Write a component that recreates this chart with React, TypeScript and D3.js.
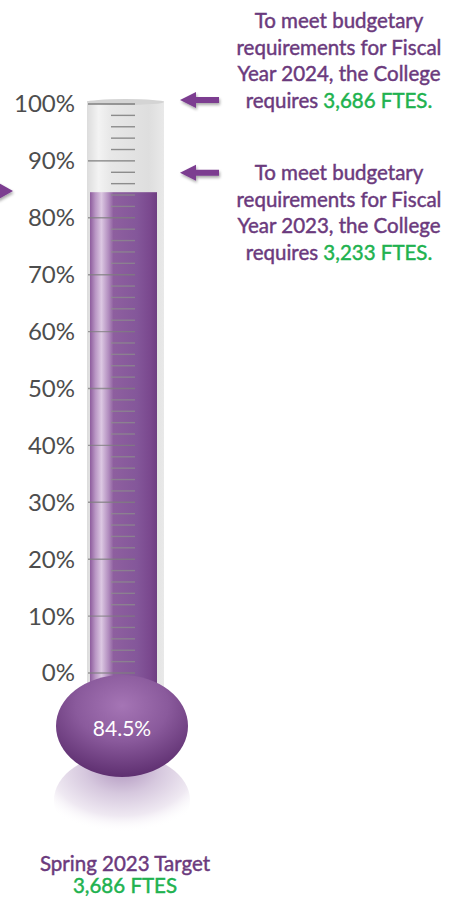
import React from "react";
import * as d3 from "d3";

const axisTicks = [0, 10, 20, 30, 40, 50, 60, 70, 80, 90, 100];
const minorTicks = d3.range(0, 101, 2);
const fillValue = 84.5;
const fillLabel = "84.5%";
const note2024 = ["To meet budgetary", "requirements for Fiscal", "Year 2024, the College"];
const note2024Last = ["requires ", "3,686 FTES."];
const note2023 = ["To meet budgetary", "requirements for Fiscal", "Year 2023, the College"];
const note2023Last = ["requires ", "3,233 FTES."];
const arrowTargets = [100, 87.2];
const footer = ["Spring 2023 Target", "3,686 FTES"];

const PURPLE_TEXT = "#6b3a7d";
const GREEN = "#21b24f";
const ARROW = "#7b3c90";
const FONT = "Lato, 'Open Sans', sans-serif";

export default function App() {
  const W = 465, H = 901;
  const y = d3.scaleLinear().domain([0, 100]).range([673, 104]);
  const tubeL = 87, tubeR = 164;
  const fillL = 90, fillR = 157;
  const cx = 122;

  const arrow = (ty: number, x0: number) => {
    const p = d3.path();
    p.moveTo(x0, ty);
    p.lineTo(x0 + 16, ty - 8);
    p.lineTo(x0 + 16, ty - 3);
    p.lineTo(x0 + 39, ty - 3);
    p.lineTo(x0 + 39, ty + 3);
    p.lineTo(x0 + 16, ty + 3);
    p.lineTo(x0 + 16, ty + 8);
    p.closePath();
    return p.toString();
  };

  const noteBlock = (lines: string[], last: string[], baseY: number) => (
    <text x={339} y={baseY} textAnchor="middle" fontFamily={FONT} fontSize={20.5} fill={PURPLE_TEXT}
      stroke={PURPLE_TEXT} strokeWidth={0.45}>
      {lines.map((l, i) => (
        <tspan key={i} x={339} dy={i === 0 ? 0 : 26.5}>{l}</tspan>
      ))}
      <tspan x={339} dy={26.5}>{last[0]}<tspan fill={GREEN} stroke={GREEN}>{last[1]}</tspan></tspan>
    </text>
  );

  return (
    <svg width={W} height={H} style={{ position: "absolute", left: 0, top: 0, background: "#fff" }}>
      <defs>
        <linearGradient id="glass" x1="0" x2="1" y1="0" y2="0">
          <stop offset="0" stopColor="#dcdcdc" />
          <stop offset="0.15" stopColor="#f3f3f3" />
          <stop offset="0.3" stopColor="#e8e8e8" />
          <stop offset="0.8" stopColor="#dedede" />
          <stop offset="1" stopColor="#e9e9e9" />
        </linearGradient>
        <linearGradient id="liquid" x1="0" x2="1" y1="0" y2="0">
          <stop offset="0" stopColor="#8d5c9d" />
          <stop offset="0.08" stopColor="#b996c4" />
          <stop offset="0.17" stopColor="#dcc8e2" />
          <stop offset="0.28" stopColor="#b08bbd" />
          <stop offset="0.35" stopColor="#8e5f9f" />
          <stop offset="0.7" stopColor="#84579a" />
          <stop offset="0.9" stopColor="#7a488e" />
          <stop offset="1" stopColor="#6f3e82" />
        </linearGradient>
        <radialGradient id="bulb" cx="0.5" cy="0.3" r="0.7">
          <stop offset="0" stopColor="#a575b5" />
          <stop offset="0.5" stopColor="#8a5a9c" />
          <stop offset="1" stopColor="#5e2f70" />
        </radialGradient>
        <radialGradient id="refl" cx="0.5" cy="0.15" r="0.7">
          <stop offset="0" stopColor="#b095be" />
          <stop offset="0.4" stopColor="#d6c8de" />
          <stop offset="0.75" stopColor="#efe9f2" />
          <stop offset="1" stopColor="#ffffff" stopOpacity={0} />
        </radialGradient>
        <filter id="shadow" x="-20%" y="-50%" width="140%" height="200%">
          <feGaussianBlur in="SourceAlpha" stdDeviation="1.5" />
          <feOffset dx="1" dy="2" result="b" />
          <feComponentTransfer><feFuncA type="linear" slope="0.35" /></feComponentTransfer>
          <feMerge><feMergeNode /><feMergeNode in="SourceGraphic" /></feMerge>
        </filter>
      </defs>

      {/* reflection */}
      <ellipse cx={cx} cy={800} rx={68} ry={46} fill="url(#refl)" />

      {/* glass tube */}
      <rect x={tubeL} y={y(100) - 3} width={tubeR - tubeL} height={y(0) - y(100) + 20} fill="url(#glass)" />
      <ellipse cx={(tubeL + tubeR) / 2} cy={y(100) - 2} rx={(tubeR - tubeL) / 2} ry={3} fill="#d4d4d4" />

      {/* liquid */}
      <rect x={fillL} y={y(fillValue)} width={fillR - fillL} height={y(0) - y(fillValue) + 20} fill="url(#liquid)" />

      {/* ticks */}
      {minorTicks.map((t) => (
        <line key={"m" + t} x1={t % 10 === 0 ? 88 : 111} x2={135} y1={y(t)} y2={y(t)}
          stroke={t % 10 === 0 ? "#7f7f7f" : "#8c8c8c"} strokeOpacity={t <= fillValue ? 0.75 : 1} strokeWidth={1.4} />
      ))}

      {/* axis labels */}
      {axisTicks.map((t) => (
        <text key={t} x={75} y={y(t)} dy="0.35em" textAnchor="end" fontFamily={FONT} fontSize={24} fill="#4d4d4d">
          {t}%
        </text>
      ))}

      {/* bulb */}
      <ellipse cx={cx} cy={726} rx={66} ry={51} fill="url(#bulb)" />
      <text x={cx} y={729} dy="0.35em" textAnchor="middle" fontFamily={FONT} fontSize={21} fill="#fff">{fillLabel}</text>

      {/* arrows */}
      {arrowTargets.map((t, i) => (
        <path key={i} d={arrow(y(t) - 4, 180)} fill={ARROW} filter="url(#shadow)" />
      ))}
      <path d={`M-30,187 L-3,187 L-3,182 L13,191 L-3,200 L-3,195 L-30,195 Z`} fill={ARROW} filter="url(#shadow)" />

      {/* notes */}
      {noteBlock(note2024, note2024Last, 28)}
      {noteBlock(note2023, note2023Last, 180)}

      {/* footer */}
      <text x={125} y={871} textAnchor="middle" fontFamily={FONT} fontSize={20.5} fill={PURPLE_TEXT} stroke={PURPLE_TEXT} strokeWidth={0.45}>{footer[0]}</text>
      <text x={125} y={893} textAnchor="middle" fontFamily={FONT} fontSize={20.5} fill={GREEN} stroke={GREEN} strokeWidth={0.45}>{footer[1]}</text>
    </svg>
  );
}
